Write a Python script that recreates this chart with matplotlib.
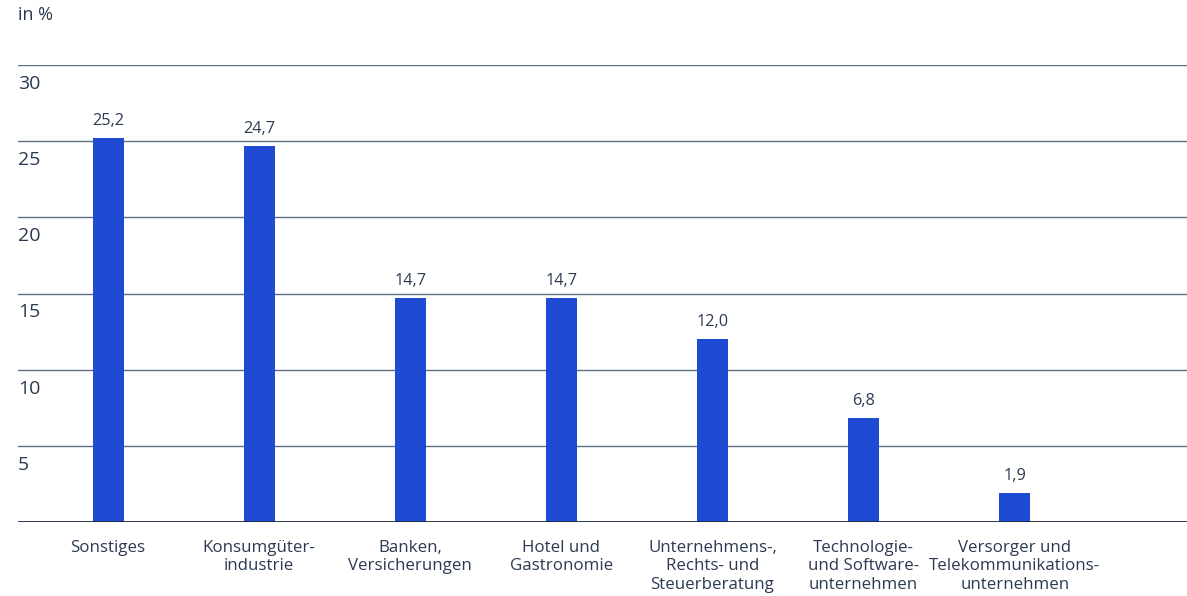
import matplotlib
matplotlib.use('Agg')
import matplotlib.pyplot as plt

categories = ['Sonstiges', 'Konsumgüter-\nindustrie', 'Banken,\nVersicherungen',
              'Hotel und\nGastronomie', 'Unternehmens-,\nRechts- und\nSteuerberatung',
              'Technologie-\nund Software-\nunternehmen',
              'Versorger und\nTelekommunikations-\nunternehmen']
values = [25.2, 24.7, 14.7, 14.7, 12.0, 6.8, 1.9]
yticks = [5, 10, 15, 20, 25, 30]

BAR = '#1e4bd2'
TEXT = '#2b3a52'
GRID = '#5f6e82'

plt.rcParams['font.family'] = ['Open Sans', 'DejaVu Sans']

fig = plt.figure(figsize=(11.87, 5.96), dpi=100)
ax = fig.add_axes([18 / 1187, 74 / 596, 1169 / 1187, 457 / 596])

x = list(range(len(values)))
ax.bar(x, values, width=0.205, color=BAR, zorder=3)
for xi, v in zip(x, values):
    ax.text(xi, v + 0.6, f'{v:.1f}'.replace('.', ','), ha='center', va='bottom',
            fontsize=11.7, color=TEXT)

ax.set_xlim(-0.596, 7.14)
ax.set_ylim(0, 30)
for t in yticks:
    ax.axhline(t, color=GRID, linewidth=1, zorder=1)
    ax.text(0, t - 0.65, str(t), transform=ax.get_yaxis_transform(),
            ha='left', va='top', fontsize=14, color=TEXT)
ax.axhline(0, color='#1b2a40', linewidth=1.3, zorder=4)

ax.set_yticks([])
ax.set_xticks(x)
ax.set_xticklabels(categories, fontsize=12.2, color=TEXT, linespacing=1.2, va='top')
ax.tick_params(axis='x', length=0, pad=13)
for s in ax.spines.values():
    s.set_visible(False)

fig.text(18 / 1187, 1 - 15 / 596, 'in %', ha='left', va='center', fontsize=13, color=TEXT)

fig.savefig('out.png', dpi=100)
